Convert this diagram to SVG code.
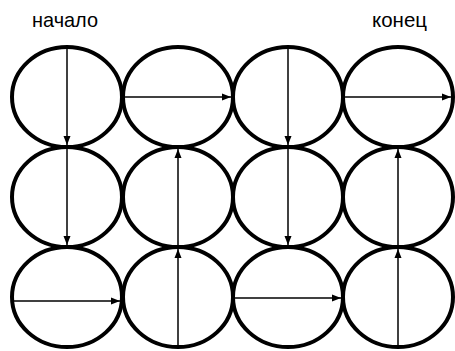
<svg xmlns="http://www.w3.org/2000/svg" width="455" height="351" viewBox="0 0 455 351">
<defs>
<style>
.c{fill:none;stroke:#000;stroke-width:4}
.a{fill:none;stroke:#000;stroke-width:1.5;marker-end:url(#ah)}
.t{font-family:"Liberation Sans",Arial,sans-serif;font-size:21px;fill:#000}
</style>
<marker id="ah" markerUnits="userSpaceOnUse" markerWidth="10" markerHeight="8" refX="9" refY="4" orient="auto">
<path d="M0,0.5 L9,4 L0,7.5 z" fill="#000"/>
</marker>
</defs>
<rect width="455" height="351" fill="#fff"/>
<text class="t" x="32" y="27" textLength="66" lengthAdjust="spacingAndGlyphs">начало</text>
<text class="t" x="372" y="27" textLength="55" lengthAdjust="spacingAndGlyphs">конец</text>
<g id="n11"><ellipse class="c" cx="67" cy="97" rx="55" ry="50"/></g>
<g id="n12"><ellipse class="c" cx="178" cy="97" rx="55" ry="50"/></g>
<g id="n13"><ellipse class="c" cx="288" cy="97" rx="55" ry="50"/></g>
<g id="n14"><ellipse class="c" cx="398" cy="97" rx="55" ry="50"/></g>
<g id="n21"><ellipse class="c" cx="67" cy="197" rx="55" ry="50"/></g>
<g id="n22"><ellipse class="c" cx="178" cy="197" rx="55" ry="50"/></g>
<g id="n23"><ellipse class="c" cx="288" cy="197" rx="55" ry="50"/></g>
<g id="n24"><ellipse class="c" cx="398" cy="197" rx="55" ry="50"/></g>
<g id="n31"><ellipse class="c" cx="67" cy="297" rx="55" ry="50"/></g>
<g id="n32"><ellipse class="c" cx="178" cy="297" rx="55" ry="50"/></g>
<g id="n33"><ellipse class="c" cx="288" cy="297" rx="55" ry="50"/></g>
<g id="n34"><ellipse class="c" cx="398" cy="297" rx="55" ry="50"/></g>
<g id="connectors">
<line class="a" x1="67" y1="48" x2="67" y2="145"/>
<line class="a" x1="67" y1="148" x2="67" y2="245"/>
<line class="a" x1="14" y1="301" x2="120" y2="301"/>
<line class="a" x1="178" y1="346" x2="178" y2="249"/>
<line class="a" x1="178" y1="246" x2="178" y2="149"/>
<line class="a" x1="125" y1="97" x2="231" y2="97"/>
<line class="a" x1="288" y1="48" x2="288" y2="145"/>
<line class="a" x1="288" y1="148" x2="288" y2="245"/>
<line class="a" x1="235" y1="298" x2="341" y2="298"/>
<line class="a" x1="398" y1="346" x2="398" y2="249"/>
<line class="a" x1="398" y1="246" x2="398" y2="149"/>
<line class="a" x1="345" y1="97" x2="451" y2="97"/>
</g>
</svg>
